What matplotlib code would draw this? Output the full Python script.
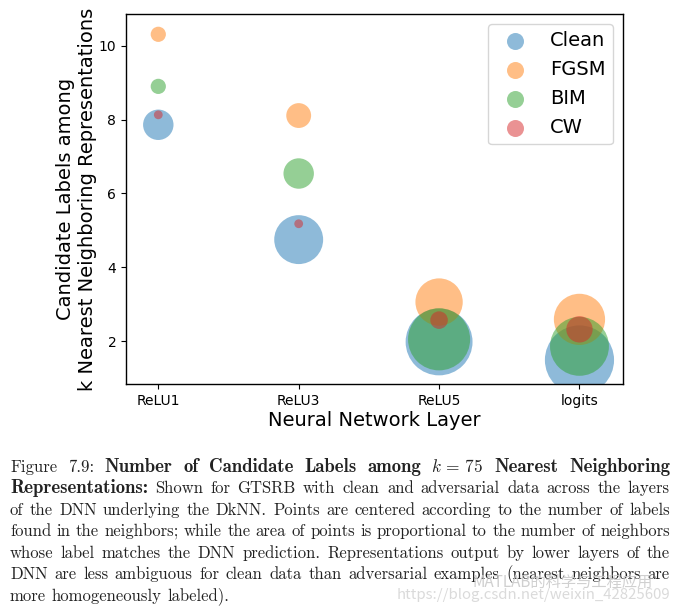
import math
import matplotlib
matplotlib.use('Agg')
import matplotlib.pyplot as plt

plt.rcParams['mathtext.fontset'] = 'cm'

layers = ['ReLU1', 'ReLU3', 'ReLU5', 'logits']
series = ['Clean', 'FGSM', 'BIM', 'CW']

# mean number of candidate labels among the k nearest neighbours
clean_labels = [7.86, 4.75, 1.98, 1.49]
fgsm_labels = [10.31, 8.11, 3.06, 2.59]
bim_labels = [8.90, 6.54, 2.05, 1.86]
cw_labels = [8.13, 5.18, 2.57, 2.32]

# neighbours whose label matches the DNN prediction (marker area)
clean_neighbors = [12, 31, 58, 62]
fgsm_neighbors = [3, 8, 29, 34]
bim_neighbors = [3, 12, 50, 45]
cw_neighbors = [1, 1, 4, 9]

caption = [
    [("Figure 7.9:", "r"), ("Number of Candidate Labels among", "b"), ("$k\\,=\\,75$", "m"),
     ("Nearest Neighboring", "b")],
    [("Representations:", "b"), ("Shown for GTSRB with clean and adversarial data across the layers", "r")],
    [("of the DNN underlying the DkNN. Points are centered according to the number of labels", "r")],
    [("found in the neighbors; while the area of points is proportional to the number of neighbors", "r")],
    [("whose label matches the DNN prediction. Representations output by lower layers of the", "r")],
    [("DNN are less ambiguous for clean data than adversarial examples (nearest neighbors are", "r")],
    [("more homogeneously labeled).", "r")],
]

W, H = 678, 614
fig = plt.figure(figsize=(W / 100, H / 100), dpi=100)
ax = fig.add_axes([126 / W, 1 - 384 / H, (623 - 126) / W, (384 - 14) / H])

colors = ['tab:blue', 'tab:orange', 'tab:green', 'tab:red']
ys = [clean_labels, fgsm_labels, bim_labels, cw_labels]
ns = [clean_neighbors, fgsm_neighbors, bim_neighbors, cw_neighbors]
x = list(range(len(layers)))
for name, c, yv, nv in zip(series, colors, ys, ns):
    ax.scatter(x, yv, s=[40 * n for n in nv], color=c, alpha=0.5, linewidths=0, label=name)

ax.set_xlim(-0.23, 3.31)
ax.set_ylim(0.84, 10.86)
ax.set_xticks(x)
ax.set_xticklabels(layers)
ax.set_yticks([2, 4, 6, 8, 10])
ax.tick_params(labelsize=10)
for sp in ax.spines.values():
    sp.set_linewidth(1.0)
ax.set_xlabel('Neural Network Layer', fontsize=14, labelpad=2)
ax.set_ylabel('Candidate Labels among\nk Nearest Neighboring Representations', fontsize=14, labelpad=1)

leg = ax.legend(loc='upper right', fontsize=14, labelspacing=0.5)
for h in leg.legend_handles:
    h.set_sizes([150])

# caption, justified word by word
renderer = fig.canvas.get_renderer()
x0, x1 = 10, 670
baselines = [472, 493, 515, 536, 558, 579, 601]
fams = {'r': 'cmr10', 'b': 'cmb10', 'm': 'cmr10'}
sizes = {'r': 12, 'b': 13.5, 'm': 12.5}
for li, (pieces, yb) in enumerate(zip(caption, baselines)):
    words = []
    for text, st in pieces:
        if st == 'm':
            words.append((text, st))
        else:
            words += [(w, st) for w in text.split(' ')]
    objs = []
    for w, st in words:
        t = fig.text(0, (H - yb) / H, w, fontsize=sizes[st], family=fams[st], color='#222222',
                     ha='left', va='baseline')
        if st != 'm':
            # agg snaps each word's bitmap to whole pixels; offset so all words share the baseline
            _, hh, dd = renderer.get_text_width_height_descent(w, t.get_fontproperties(), ismath=False)
            shift = math.floor(hh) - math.floor(hh - dd) - dd
            t.set_y((H - yb - shift) / H)
        objs.append(t)
    widths = [t.get_window_extent(renderer).width for t in objs]
    if li == len(caption) - 1:
        gap = 12 * 100 / 72 * 0.333
    else:
        gap = (x1 - x0 - sum(widths)) / (len(objs) - 1)
    xp = x0
    for t, w in zip(objs, widths):
        t.set_x(xp / W)
        xp += w + gap

# watermark
fig.text(472 / W, 1 - 582 / H, 'MATLAB的科学与工程应用', fontsize=11, color='#c8c8c8', alpha=0.85,
         family=['Noto Sans CJK SC', 'DejaVu Sans'], va='center', ha='left')
fig.text(397 / W, 1 - 595 / H, 'https://blog.csdn.net/weixin_42825609', fontsize=10.8, color='#d4d4d4',
         alpha=0.85, family=['Noto Sans CJK SC', 'DejaVu Sans'], va='center', ha='left')

fig.savefig('out.png', dpi=100)
